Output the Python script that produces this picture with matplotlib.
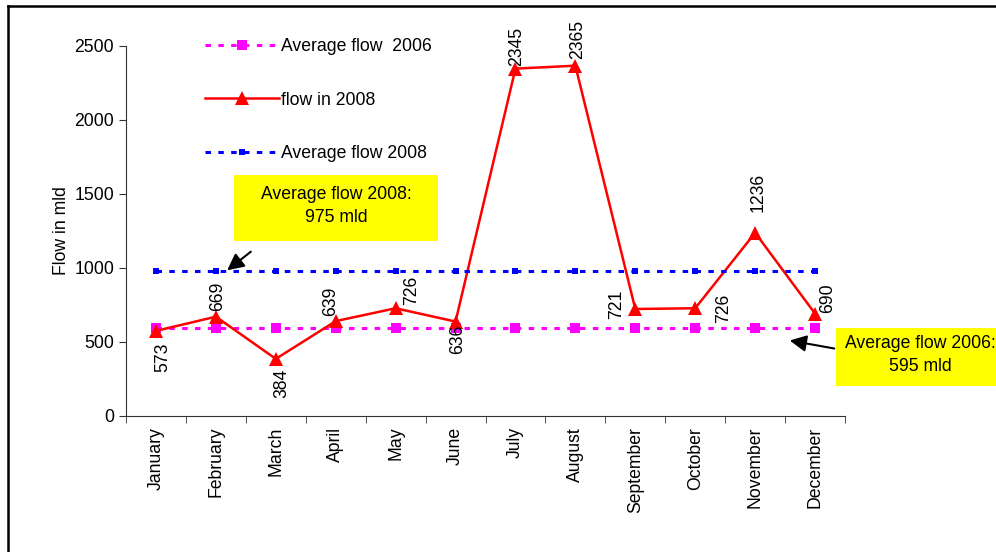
#!/usr/bin/env python3
"""
plot.py

Monthly flow in 2008 against the 2006 and 2008 averages.
Writes out.png
"""
import matplotlib
matplotlib.use('Agg')
import matplotlib.pyplot as plt
from matplotlib.lines import Line2D

months = ['January', 'February', 'March', 'April', 'May', 'June', 'July',
          'August', 'September', 'October', 'November', 'December']
flow_2008 = [573, 669, 384, 639, 726, 636, 2345, 2365, 721, 726, 1236, 690]
avg_2006 = [595] * 12
avg_2008 = [975] * 12

# where each rotated value label sits relative to its point (pixels)
label_offsets = [(7, -26), (2, 20), (6, -25), (-5, 20), (16, 18), (2, -18),
                 (1, 22), (2, 26), (-19, 5), (28, 0), (3, 40), (13, 15)]

FS = 12.7


def main():
    plt.rcParams['font.family'] = ['Liberation Sans', 'DejaVu Sans']
    W, H = 996, 552
    fig = plt.figure(figsize=(W / 100, H / 100), dpi=100)
    ax = fig.add_axes([126 / W, 1 - 415.7 / H, 719 / W, 370 / H])

    x = list(range(len(months)))
    ax.plot(x, avg_2006, color='#ff00ff', lw=2.2, linestyle=(0, (1.8, 2.4)),
            marker='s', markersize=7, markeredgewidth=0,
            label='Average flow  2006', zorder=3)
    ax.plot(x, flow_2008, color='#ff0000', lw=1.8, marker='^', markersize=10,
            markeredgewidth=0, label='flow in 2008', zorder=4)
    ax.plot(x, avg_2008, color='#0000ff', lw=2.2, linestyle=(0, (1.8, 2.4)),
            marker='s', markersize=4.5, markeredgewidth=0,
            label='Average flow 2008', zorder=5)

    for xi, v, (dx, dy) in zip(x, flow_2008, label_offsets):
        ax.annotate(str(v), (xi, v), xytext=(dx, dy), textcoords='offset pixels',
                    rotation=90, ha='center', va='center', fontsize=FS,
                    zorder=6)

    ax.set_xlim(-0.5, 11.5)
    ax.set_ylim(0, 2500)
    ax.set_yticks([0, 500, 1000, 1500, 2000, 2500])
    ax.set_xticks(x)
    ax.set_xticklabels(months, rotation=90, fontsize=FS)
    ax.set_xticks([i + 0.5 for i in range(-1, 12)], minor=True)
    ax.tick_params(axis='x', which='major', length=0, pad=8)
    ax.tick_params(axis='x', which='minor', length=5, direction='out',
                   color='#333333')
    ax.tick_params(axis='y', labelsize=FS, length=5, color='#333333')
    ax.set_ylabel('Flow in mld', fontsize=FS, labelpad=3)
    for side in ['top', 'right']:
        ax.spines[side].set_visible(False)
    for side in ['left', 'bottom']:
        ax.spines[side].set_color('#333333')

    ax.legend(loc='upper left', bbox_to_anchor=(72 / 719, 1.04), frameon=False,
              fontsize=FS, handlelength=4.2, handletextpad=0.1,
              labelspacing=2.08, borderaxespad=0)

    # yellow callouts with arrows
    fig.patches.append(plt.Rectangle((234 / W, 1 - 241 / H), 204 / W, 66 / H,
                                     transform=fig.transFigure,
                                     facecolor='#ffff00', edgecolor='none'))
    fig.patches.append(plt.Rectangle((836 / W, 1 - 386 / H), 170 / W, 58 / H,
                                     transform=fig.transFigure,
                                     facecolor='#ffff00', edgecolor='none'))
    fig.text(336 / W, 1 - 206 / H, 'Average flow 2008:\n975 mld', ha='center',
             va='center', fontsize=FS, linespacing=1.5)
    fig.text(920 / W, 1 - 355 / H, 'Average flow 2006:\n595 mld', ha='center',
             va='center', fontsize=FS, linespacing=1.5)

    fig.add_artist(plt.Annotation('', xy=(225 / W, 1 - 272 / H),
                                  xytext=(253 / W, 1 - 250 / H),
                                  xycoords='figure fraction',
                                  arrowprops=dict(arrowstyle='-|>', color='black',
                                                  lw=1.5, mutation_scale=25)))
    fig.add_artist(plt.Annotation('', xy=(787 / W, 1 - 340 / H),
                                  xytext=(837 / W, 1 - 349 / H),
                                  xycoords='figure fraction',
                                  arrowprops=dict(arrowstyle='-|>', color='black',
                                                  lw=1.5, mutation_scale=25)))

    # outer frame of the chart area
    fig.add_artist(Line2D([8 / W, 1], [1 - 6 / H, 1 - 6 / H], color='black',
                          lw=1.8, transform=fig.transFigure))
    fig.add_artist(Line2D([8 / W, 8 / W], [0, 1 - 6 / H], color='black',
                          lw=1.8, transform=fig.transFigure))

    fig.savefig('out.png', dpi=100)


if __name__ == '__main__':
    main()
